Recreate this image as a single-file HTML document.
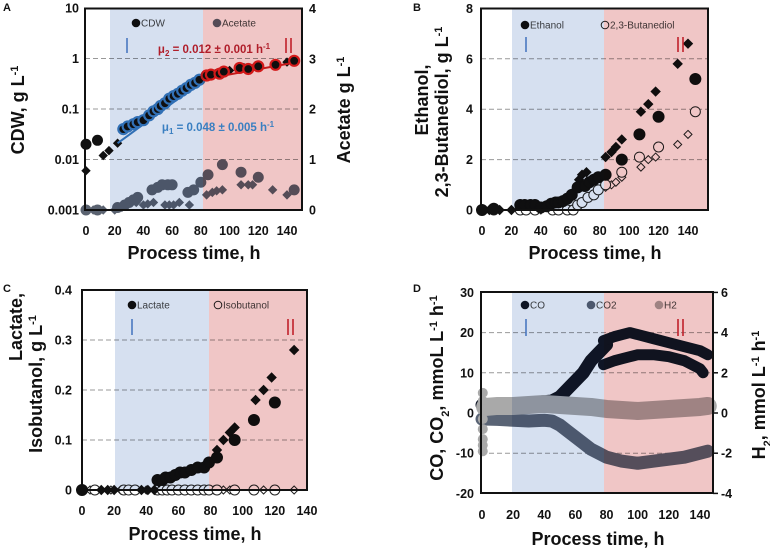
<!DOCTYPE html>
<html><head><meta charset="utf-8"><style>
html,body{margin:0;padding:0;background:#fff;}
svg{display:block;font-family:"Liberation Sans",sans-serif;}
.t{font-weight:bold;font-size:12.5px;fill:#111;}
.ti{font-weight:bold;font-size:18px;fill:#111;}
.lg{font-size:10px;fill:#444;}
.pl{font-weight:bold;font-size:11px;fill:#111;}
.sh{mix-blend-mode:multiply;}
</style></head><body>
<svg id="chart" width="770" height="549" viewBox="0 0 770 549" xmlns="http://www.w3.org/2000/svg"></svg>
<script>
// ---------- Panel A data ----------
const aCdwT=[0,8,26,29,33,36,40,44,47,50,52,55,58,61,64,67,70,73,76,79,84,87,93,96,107,113,120,132,145];
const aCdwV=[0.02,0.024,0.04,0.045,0.05,0.055,0.06,0.075,0.09,0.1,0.115,0.13,0.16,0.18,0.2,0.23,0.26,0.3,0.33,0.38,0.46,0.48,0.5,0.55,0.65,0.62,0.7,0.75,0.9];
const aCdwDT=[0,12,16,22,30,35,42,48,54,60,66,72,78,82,90,100,110,118,140];
const aCdwDV=[0.006,0.012,0.015,0.021,0.045,0.052,0.065,0.09,0.12,0.16,0.2,0.26,0.33,0.42,0.5,0.58,0.66,0.72,0.85];
const aFitT=[22,80,80,145];
const aFitV=[0.021,0.34,0.38,0.83];
const aAcT=[0,8,22,27,30,33,36,46,50,53,57,60,71,75,80,85,95,108,120,145];
const aAcV=[0,0,0.05,0.1,0.15,0.2,0.25,0.4,0.45,0.5,0.5,0.5,0.35,0.4,0.55,0.7,0.9,0.75,0.65,0.4];
const aAcDT=[5,12,20,25,35,40,43,47,55,58,61,65,72,84,88,91,95,108,113,116,130,140];
const aAcDV=[0,0,0,0.05,0.15,0.1,0.12,0.15,0.1,0.1,0.1,0.15,0.1,0.3,0.35,0.38,0.4,0.5,0.5,0.5,0.4,0.3];
// ---------- Panel B data ----------
const bEtT=[0,8,26,29,33,36,40,44,47,50,52,55,58,61,65,70,73,76,79,84,95,107,120,145];
const bEtV=[0,0.05,0.2,0.2,0.2,0.2,0.1,0.15,0.25,0.3,0.3,0.35,0.45,0.6,0.9,0.95,1.1,1.2,1.3,1.4,2.0,3.0,3.7,5.2];
const bEtDT=[5,12,20,40,55,62,66,68,71,84,88,91,95,108,113,118,133,140];
const bEtDV=[0,0,0,0.1,0.3,0.7,1.2,1.4,1.5,2.1,2.3,2.5,2.8,3.9,4.2,4.7,5.8,6.6];
const bBdT=[0,8,26,30,36,48,52,58,62,65,68,72,76,79,84,95,107,120,145];
const bBdV=[0,0,0,0,0,0,0,0,0,0.2,0.3,0.5,0.6,0.8,1.0,1.5,2.1,2.5,3.9];
const bBdDT=[5,12,20,40,60,64,68,72,84,88,91,95,108,113,118,133,140];
const bBdDV=[0,0,0,0,0,0.1,0.3,0.5,0.9,1.0,1.1,1.3,1.7,2.0,2.1,2.6,3.0];
// ---------- Panel C data ----------
const cLaT=[0,47,50,52,55,58,61,64,68,72,76,79,84,95,107,120];
const cLaV=[0,0.02,0.02,0.025,0.025,0.03,0.035,0.035,0.04,0.045,0.045,0.055,0.065,0.1,0.14,0.175];
const cLaDT=[0,12,16,20,37,41,45,48,52,56,60,65,70,74,78,84,88,92,95,108,113,118,132];
const cLaDV=[0,0,0,0,0,0,0,0.015,0.02,0.025,0.03,0.035,0.04,0.045,0.05,0.08,0.1,0.115,0.125,0.18,0.2,0.225,0.28];
const cIbT=[8,26,29,33,47,50,53,56,60,64,68,72,76,79,84,95,107,120];
const cIbV=[0,0,0,0,0,0,0,0,0,0,0,0,0,0,0,0,0,0];
const cIbDT=[5,18,24,40,60,66,82,88,92,113,132];
const cIbDV=[0,0,0,0,0,0,0,0,0,0,0];
// ---------- Panel D data ----------
const dCoT=[0,10,20,30,40,45,50,55,60,65,70,75,80];
const dCoV=[2,1.5,2,2.5,2.8,3,4,6,8,10,13,15,17];
const dCoHiT=[78,85,90,95,100,110,120,130,140,145];
const dCoHiV=[18,19,19.5,20,19.5,18.5,17.5,16.5,15.5,14.5];
const dCoLoT=[78,85,90,95,100,110,120,130,140,142];
const dCoLoV=[12,13,13.5,14,14.5,14.5,14,13,11,10];
const dCo2T=[0,10,20,30,40,45,50,55,60,65,70,75,80,90,100,110,120,130,140,145];
const dCo2V=[-1.5,-1.6,-1.8,-2,-1.8,-2,-3,-4.5,-6,-7.5,-9,-10,-11,-12,-12.5,-12,-11.5,-11,-10,-9.5];
const dH2T=[2,10,20,30,40,50,60,70,80,90,100,110,120,130,140,145];
const dH2V=[0.3,0.35,0.35,0.4,0.45,0.4,0.35,0.3,0.2,0.15,0.1,0.15,0.2,0.25,0.3,0.35];
const dH2SpikeV=[1,0.6,0.2,-0.3,-0.8,-1.3,-1.6,-1.9];
// ---------- ticks ----------
const xTicks=[0,20,40,60,80,100,120,140];
const aLeftTicks=[0.001,0.01,0.1,1,10];
const aLeftLabels=["0.001","0.01","0.1","1","10"];
const aRightTicks=[0,1,2,3,4];
const bTicks=[0,2,4,6,8];
const cTicks=[0,0.1,0.2,0.3,0.4];
const dLeftTicks=[-20,-10,0,10,20,30];
const dRightTicks=[-4,-2,0,2,4,6];

const svg=document.getElementById('chart');
const NS='http://www.w3.org/2000/svg';
function el(tag,attrs,parent){const e=document.createElementNS(NS,tag);for(const k in attrs)e.setAttribute(k,attrs[k]);(parent||svg).appendChild(e);return e;}
function txt(s,attrs,parent){const e=el('text',attrs,parent);e.textContent=s;return e;}

const A={x:t=>86+t*1.4357,y:v=>210-(Math.log10(v)+3)*50.5,yr:v=>210-v*50.4,box:[85,8.5,302,210],blue:[110,203]};
const B={x:t=>482+t*1.4714,y:v=>210-v*25.2,box:[481,8.5,708,210],blue:[512,604]};
const C={x:t=>82+t*1.607,y:v=>490-v*500,box:[82,290,307,490],blue:[115,209]};
const D={x:t=>482+t*1.557,y:v=>413-v*4.02,yr:v=>413-v*20.1,box:[481,292,713,493],blue:[512,604]};

function grid(P,vals,yf,name){const g=el('g',{});
 vals.forEach(v=>{const y=yf(v);if(y>P.box[1]+2&&y<P.box[3]-2){const l=el('line',{x1:P.box[0],x2:P.box[2],y1:y,y2:y,stroke:'#999','stroke-dasharray':'5,3','stroke-width':1},g);}});}
function circles(P,T,V,yf,fill,stroke,r,name,sw){const g=el('g',{});
 T.forEach((t,i)=>{const c=el('circle',{cx:P.x(t),cy:yf(V[i]),r:r,fill:fill,stroke:stroke,'stroke-width':sw||1},g);});}
function diamonds(P,T,V,yf,fill,stroke,s,name){const g=el('g',{});
 T.forEach((t,i)=>{const x=P.x(t),y=yf(V[i]);const p=el('polygon',{points:`${x},${y-s} ${x+s},${y} ${x},${y+s} ${x-s},${y}`,fill:fill,stroke:stroke,'stroke-width':1},g);});}
function band(P,T,V,yf,color,w,name){const pts=T.map((t,i)=>P.x(t)+','+yf(V[i])).join(' ');const p=el('polyline',{points:pts,fill:'none',stroke:color,'stroke-width':w,'stroke-linejoin':'round','stroke-linecap':'round'});}
function shade(P){const b=el('rect',{x:P.blue[0],y:P.box[1],width:P.blue[1]-P.blue[0],height:P.box[3]-P.box[1],fill:'#d6e0f0',class:'sh'});
 const r=el('rect',{x:P.blue[1],y:P.box[1],width:P.box[2]-P.blue[1],height:P.box[3]-P.box[1],fill:'#f0c6c6',class:'sh'});}
function frame(P,name){const r=el('rect',{x:P.box[0],y:P.box[1],width:P.box[2]-P.box[0],height:P.box[3]-P.box[1],fill:'none',stroke:'#111','stroke-width':2});}
function xlabels(P,ty,name){const g=el('g',{});
 xTicks.forEach(t=>{if(P.x(t)<=P.box[2]+2){const e=txt(String(t),{x:P.x(t),y:ty,'text-anchor':'middle',class:'t'},g);}});}
function ylabels(vals,labels,yf,x,anchor,name){const g=el('g',{});
 vals.forEach((v,i)=>{const e=txt(labels[i],{x:x,y:yf(v)+4.5,'text-anchor':anchor,class:'t'},g);});}
function rtitle(parts,x,y,name){const e=el('text',{x:x,y:y,'text-anchor':'middle',class:'ti',transform:`rotate(-90 ${x} ${y})`});
 parts.forEach(p=>{const s=el('tspan',{},e);s.textContent=p[0];if(p[1])s.setAttribute('baseline-shift',p[1]);if(p[1])s.setAttribute('font-size','11px');});}
function phaseMarks(x1,x2a,x2b,y1,y2){let l=el('line',{x1:x1,x2:x1,y1:y1,y2:y2,stroke:'#4a78c0','stroke-width':1.6});
 [x2a,x2b].forEach(x=>{l=el('line',{x1:x,x2:x,y1:y1,y2:y2,stroke:'#c0202a','stroke-width':1.6});});}
function legend(x,y,fill,stroke,label,name){const g=el('g',{});
 el('circle',{cx:x,cy:y,r:3.8,fill:fill,stroke:stroke,'stroke-width':1},g);txt(label,{x:x+5,y:y+3.5,class:'lg'},g);}
function plabel(s,x,y){const e=txt(s,{x:x,y:y,class:'pl'});}

// ===== Panel A =====
grid(A,[0.01,0.1,1],A.y,'panel-a-grid');
diamonds(A,aAcDT,aAcDV,A.yr,'#5a6270','#5a6270',4,'acetate-diamonds');
circles(A,aAcT,aAcV,A.yr,'#5a6270','#5a6270',5,'acetate-circles');
diamonds(A,aCdwDT,aCdwDV,A.y,'#111','#111',4,'cdw-diamonds');
const fitB=el('line',{x1:A.x(aFitT[0]),y1:A.y(aFitV[0]),x2:A.x(aFitT[1]),y2:A.y(aFitV[1]),stroke:'#3a7fc1','stroke-width':2});


const fitR=el('line',{x1:A.x(aFitT[2]),y1:A.y(aFitV[2]),x2:A.x(aFitT[3]),y2:A.y(aFitV[3]),stroke:'#d02020','stroke-width':2});


{const g=el('g',{});
 aCdwT.forEach((t,i)=>{const st=t<22?'#111':(t<81?'#3a7fc1':'#e02020');const c=el('circle',{cx:A.x(t),cy:A.y(aCdwV[i]),r:5,fill:'#111',stroke:st,'stroke-width':t<22?1:2.2},g);});}
legend(136,23,'#111','#111','CDW','legend-cdw');
legend(217,23,'#5a6270','#5a6270','Acetate','legend-acetate');
shade(A);
{const e=el('text',{x:214,y:53,'text-anchor':'middle','font-weight':'bold','font-size':'11.5px',fill:'#b01e2a'});
 e.innerHTML='μ<tspan font-size="8" dy="3">2</tspan><tspan dy="-3"> = 0.012 ± 0.001 h</tspan><tspan font-size="8" dy="-4">-1</tspan>';}
{const e=el('text',{x:218,y:131,'text-anchor':'middle','font-weight':'bold','font-size':'11.5px',fill:'#3a7fc1'});
 e.innerHTML='μ<tspan font-size="8" dy="3">1</tspan><tspan dy="-3"> = 0.048 ± 0.005 h</tspan><tspan font-size="8" dy="-4">-1</tspan>';}
phaseMarks(127,286,291,38,53);
frame(A,'panel-a-frame');
ylabels(aLeftTicks,aLeftLabels,A.y,79,'end','panel-a-left-ticks');
ylabels(aRightTicks,aRightTicks.map(String),A.yr,309,'start','panel-a-right-ticks');
xlabels(A,235,'panel-a-x-ticks');
{const e=txt('Process time, h',{x:194,y:259,'text-anchor':'middle',class:'ti'});}
rtitle([['CDW, g L'],['-1','super']],24,110,'panel-a-y-title');
rtitle([['Acetate g L'],['-1','super']],350,110,'panel-a-right-title');
plabel('A',3,11);

// ===== Panel B =====
grid(B,[2,4,6],B.y,'panel-b-grid');
diamonds(B,bBdDT,bBdDV,B.y,'#fff','#222',4,'butanediol-diamonds');
circles(B,bBdT,bBdV,B.y,'#fff','#222',5,'butanediol-circles');
diamonds(B,bEtDT,bEtDV,B.y,'#111','#111',4.5,'ethanol-diamonds');
circles(B,bEtT,bEtV,B.y,'#111','#111',5.5,'ethanol-circles');
legend(525,25,'#111','#111','Ethanol','legend-ethanol');
legend(605,25,'#fff','#222','2,3-Butanediol','legend-butanediol');
shade(B);
phaseMarks(526,678,683,37,52);
frame(B,'panel-b-frame');
ylabels(bTicks,bTicks.map(String),B.y,473,'end','panel-b-left-ticks');
xlabels(B,235,'panel-b-x-ticks');
{const e=txt('Process time, h',{x:595,y:259,'text-anchor':'middle',class:'ti'});}
rtitle([['Ethanol,']],428,100,'panel-b-y-title-line1');
rtitle([['2,3-Butanediol, g L'],['-1','super']],448,112,'panel-b-y-title-line2');
plabel('B',413,11);

// ===== Panel C =====
grid(C,[0.1,0.2,0.3],C.y,'panel-c-grid');
{const l=el('line',{x1:C.x(0),x2:C.x(132),y1:C.y(0),y2:C.y(0),stroke:'#111','stroke-width':1.5});}
diamonds(C,cIbDT,cIbDV,C.y,'#fff','#222',4,'isobutanol-diamonds');
circles(C,cIbT,cIbV,C.y,'#fff','#222',5,'isobutanol-circles');
diamonds(C,cLaDT,cLaDV,C.y,'#111','#111',4.5,'lactate-diamonds');
circles(C,cLaT,cLaV,C.y,'#111','#111',5.5,'lactate-circles');
legend(132,305,'#111','#111','Lactate','legend-lactate');
legend(218,305,'#fff','#222','Isobutanol','legend-isobutanol');
shade(C);
phaseMarks(132,288,293,319,335);
frame(C,'panel-c-frame');
ylabels(cTicks,cTicks.map(String),C.y,72,'end','panel-c-left-ticks');
xlabels(C,515,'panel-c-x-ticks');
{const e=txt('Process time, h',{x:195,y:540,'text-anchor':'middle',class:'ti'});}
rtitle([['Lactate,']],22,327,'panel-c-y-title-line1');
rtitle([['Isobutanol, g L'],['-1','super']],42,384,'panel-c-y-title-line2');
plabel('C',3,292);

// ===== Panel D =====
grid(D,[-10,10,20],D.y,'panel-d-grid');
band(D,dCo2T,dCo2V,D.y,'#5a6475',13,'co2-series');
band(D,dCoT,dCoV,D.y,'#111827',13,'co-series');
band(D,dCoHiT,dCoHiV,D.y,'#111827',11,'co-series-upper');
band(D,dCoLoT,dCoLoV,D.y,'#111827',11,'co-series-lower');
band(D,dH2T,dH2V,D.yr,'#a9a9a9',18,'h2-series');
{const g=el('g',{});
 dH2SpikeV.forEach(v=>{const c=el('circle',{cx:D.x(0.5),cy:D.yr(v),r:5,fill:'#a9a9a9'},g);});}
legend(525,305,'#111827','#111827','CO','legend-co');
legend(591,305,'#5a6475','#5a6475','CO2','legend-co2');
legend(659,305,'#a9a9a9','#a9a9a9','H2','legend-h2');
shade(D);
phaseMarks(526,678,683,319,336);
frame(D,'panel-d-frame');
{const g=el('g',{});
 dRightTicks.forEach(v=>{el('line',{x1:713,x2:718,y1:D.yr(v),y2:D.yr(v),stroke:'#111','stroke-width':1.5},g);});}
ylabels(dLeftTicks,dLeftTicks.map(String),D.y,474,'end','panel-d-left-ticks');
ylabels(dRightTicks,dRightTicks.map(String),D.yr,721,'start','panel-d-right-ticks');
xlabels(D,519,'panel-d-x-ticks');
{const e=txt('Process time, h',{x:598,y:545,'text-anchor':'middle',class:'ti'});}
rtitle([['CO, CO'],['2','sub'],[', mmoL L'],['-1','super'],[' h'],['-1','super']],443,388,'panel-d-y-title');
rtitle([['H'],['2','sub'],[', mmol L'],['-1','super'],[' h'],['-1','super']],765,395,'panel-d-right-title');
plabel('D',413,292);
</script>
</body></html>
